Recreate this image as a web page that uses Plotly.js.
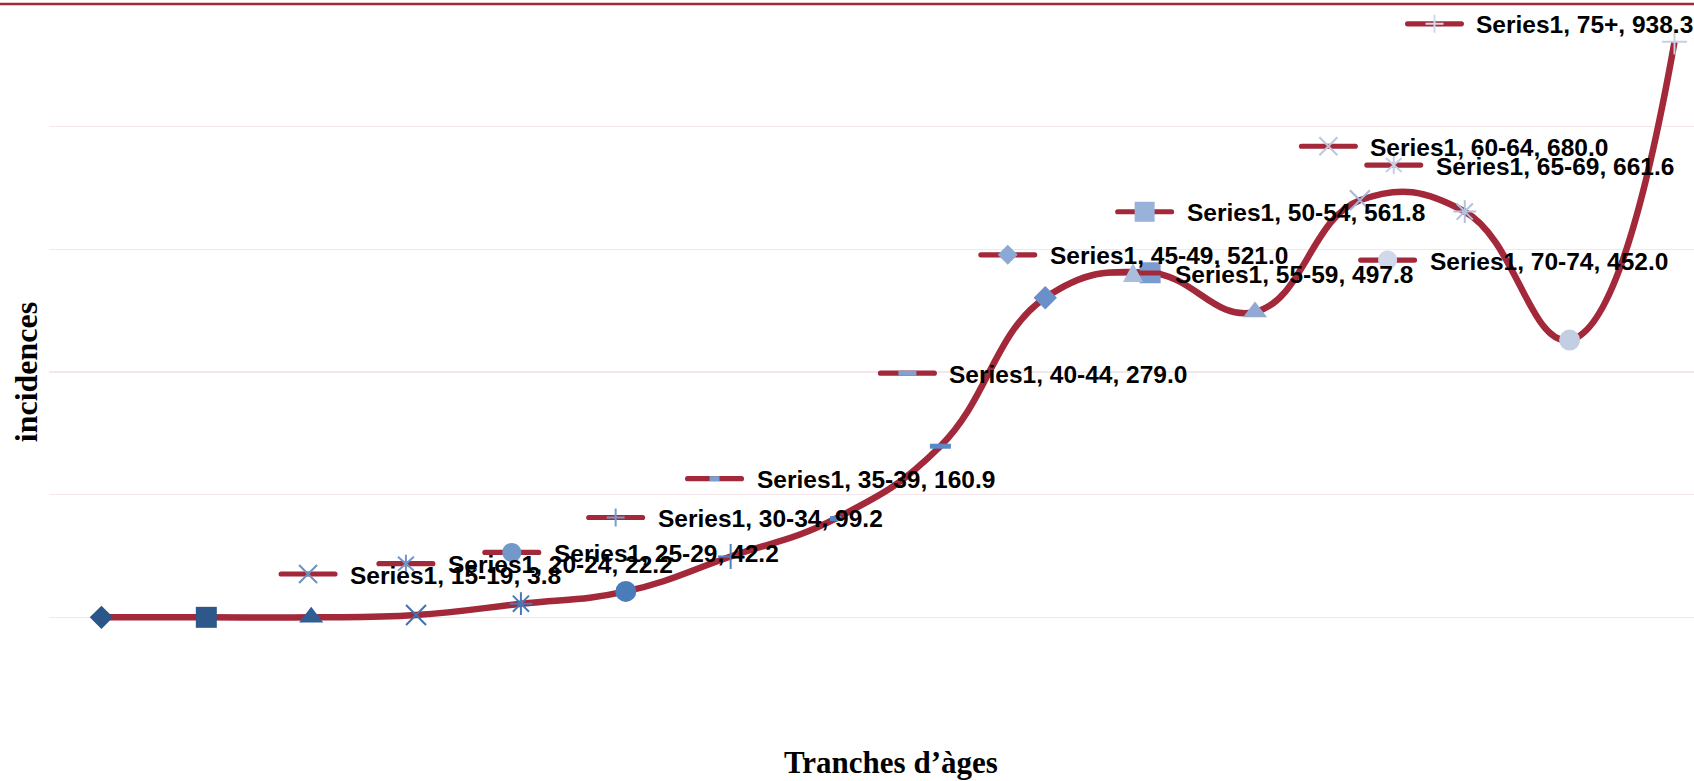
<!DOCTYPE html>
<html>
<head>
<meta charset="utf-8">
<script src="https://cdn.plot.ly/plotly-3.0.1.min.js"></script>
<style>
  html, body { margin: 0; padding: 0; background: #ffffff; }
  #chart { width: 1694px; height: 781px; }
</style>
</head>
<body>
<div id="chart"></div>
<script>
// ---------------- data ----------------
const categories = ['0-4','5-9','10-14','15-19','20-24','25-29','30-34','35-39',
                    '40-44','45-49','50-54','55-59','60-64','65-69','70-74','75+'];
const incidences = [0, 0, 0, 3.8, 22.2, 42.2, 99.2, 160.9,
                    279.0, 521.0, 561.8, 497.8, 680.0, 661.6, 452.0, 938.3];
const seriesName = 'Series1';
const labelledCategories = ['15-19','20-24','25-29','30-34','35-39','40-44','45-49',
                            '50-54','55-59','60-64','65-69','70-74','75+'];
const xTitle = 'Tranches d’àges';
const yTitle = 'incidences';

// ---------------- styles ----------------
const lineColor = '#A2283A';
const markerSymbols = ['diamond','square','triangle-up','x-thin-open','asterisk-open','circle',
  'cross-thin-open','line-ew-open','line-ew-open','diamond','square','triangle-up',
  'x-thin-open','asterisk-open','circle','cross-thin-open'];
const markerSizes = [18,21,21,20,19,21,18,8,15,18,21,21,20,19,21,18];
const markerLineWidths = [0,0,0,2,2,0,2,5,5,0,0,0,2,2,0,2];
const markerColors = ['#2B5688','#2D5889','#305D95','#4472B0','#4779B9','#4A7CBA','#4F81BD',
  '#5585C4','#5B88C6','#6B90C9','#7C9CCF','#93A9D4','#A7B7DA','#B3C1DE','#C3CEE3','#C7D0E3'];
const keyKinds = ['diamond','square','triangle','x','star','circle','plus','dashS','dashL',
  'diamond','square','triangle','x','star','circle','plus'];
// label key-centre offsets (px, right / up) from each data point
const labelOffsets = {
  '15-19': [-108, 41], '20-24': [-115, 40], '25-29': [-114, 39], '30-34': [-115, 39],
  '35-39': [-121, 40], '40-44': [-33, 73], '45-49': [-37.5, 43], '50-54': [-5.5, 61],
  '55-59': [-122, 39], '60-64': [-31.5, 54], '65-69': [-71, 46.5], '70-74': [-182, 80],
  '75+': [-240, 18]
};

function lighten(hex, f) {
  const n = parseInt(hex.slice(1), 16);
  const r = (n >> 16) & 255, g = (n >> 8) & 255, b = n & 255;
  const m = c => Math.round(c + (255 - c) * f);
  return 'rgb(' + m(r) + ',' + m(g) + ',' + m(b) + ')';
}
const f2 = v => v.toFixed(2);

function keyLinePath(cx, cy) {
  const h = 29.5, t = 2.6;
  const x0 = cx - h + t, x1 = cx + h - t;
  return 'M' + f2(x0) + ',' + f2(cy + t) + ' H' + f2(x1) +
    ' Q' + f2(x1 + t) + ',' + f2(cy + t) + ' ' + f2(x1 + t) + ',' + f2(cy) +
    ' Q' + f2(x1 + t) + ',' + f2(cy - t) + ' ' + f2(x1) + ',' + f2(cy - t) +
    ' H' + f2(x0) +
    ' Q' + f2(x0 - t) + ',' + f2(cy - t) + ' ' + f2(x0 - t) + ',' + f2(cy) +
    ' Q' + f2(x0 - t) + ',' + f2(cy + t) + ' ' + f2(x0) + ',' + f2(cy + t) + ' Z';
}

function keyMarker(kind, cx, cy) {
  // returns [path, filled]
  const P = (x, y) => f2(cx + x) + ',' + f2(cy + y);
  switch (kind) {
    case 'diamond': return ['M' + P(10, 0) + ' L' + P(0, 10) + ' L' + P(-10, 0) + ' L' + P(0, -10) + ' Z', true];
    case 'square': return ['M' + P(-10, -10) + ' L' + P(10, -10) + ' L' + P(10, 10) + ' L' + P(-10, 10) + ' Z', true];
    case 'triangle': return ['M' + P(-10, -9) + ' L' + P(10, -9) + ' L' + P(0, 10) + ' Z', true];
    case 'x': return ['M' + P(-9, -9) + ' L' + P(9, 9) + ' M' + P(-9, 9) + ' L' + P(9, -9), false];
    case 'star': return ['M' + P(0, -9) + ' L' + P(0, 9) + ' M' + P(-8, -7) + ' L' + P(8, 7) + ' M' + P(-8, 7) + ' L' + P(8, -7), false];
    case 'plus': return ['M' + P(-9, 0) + ' L' + P(9, 0) + ' M' + P(0, -9) + ' L' + P(0, 9), false];
    case 'dashS': return ['M' + P(-5, -2.5) + ' L' + P(5, -2.5) + ' L' + P(5, 2.5) + ' L' + P(-5, 2.5) + ' Z', true];
    case 'dashL': return ['M' + P(-9, -2.5) + ' L' + P(9, -2.5) + ' L' + P(9, 2.5) + ' L' + P(-9, 2.5) + ' Z', true];
    case 'circle': {
      const r = 9.5, k = r * 0.5523;
      return ['M' + P(r, 0) + ' C' + P(r, k) + ' ' + P(k, r) + ' ' + P(0, r) +
        ' C' + P(-k, r) + ' ' + P(-r, k) + ' ' + P(-r, 0) +
        ' C' + P(-r, -k) + ' ' + P(-k, -r) + ' ' + P(0, -r) +
        ' C' + P(k, -r) + ' ' + P(r, -k) + ' ' + P(r, 0) + ' Z', true];
    }
  }
}

// ---------------- trace ----------------
const trace = {
  type: 'scatter',
  mode: 'lines+markers',
  x: categories,
  y: incidences,
  name: seriesName,
  line: { color: lineColor, width: 6.5, shape: 'spline', smoothing: 1.25 },
  marker: {
    symbol: markerSymbols,
    size: markerSizes,
    color: markerColors,
    opacity: 1,
    line: { color: markerColors, width: markerLineWidths }
  },
  opacity: 1,
  hoverinfo: 'x+y',
  cliponaxis: false
};

// ---------------- labels (key + text) ----------------
const shapes = [];
const annotations = [];

// top border line of the chart
shapes.push({
  type: 'line', xref: 'paper', yref: 'paper', x0: -49 / 1645, x1: 1, y0: 1, y1: 1,
  line: { color: '#A0283A', width: 2.5 }, layer: 'above'
});

labelledCategories.forEach(cat => {
  const i = categories.indexOf(cat);
  const v = incidences[i];
  const off = labelOffsets[cat];
  const cx = off[0], cy = off[1];
  shapes.push({
    type: 'path', xref: 'x', yref: 'y', xsizemode: 'pixel', ysizemode: 'pixel',
    xanchor: i, yanchor: v, path: keyLinePath(cx, cy),
    fillcolor: lineColor, line: { width: 0 }, layer: 'above'
  });
  const km = keyMarker(keyKinds[i], cx, cy);
  const kc = lighten(markerColors[i], 0.22);
  shapes.push({
    type: 'path', xref: 'x', yref: 'y', xsizemode: 'pixel', ysizemode: 'pixel',
    xanchor: i, yanchor: v, path: km[0],
    fillcolor: km[1] ? kc : 'rgba(0,0,0,0)',
    line: km[1] ? { width: 0 } : { color: kc, width: 2 }, layer: 'above'
  });
  annotations.push({
    xref: 'x', yref: 'y', x: i, y: v,
    text: seriesName + ', ' + cat + ', ' + v.toFixed(1),
    showarrow: false, xanchor: 'left', yanchor: 'middle',
    xshift: cx + 40, yshift: cy - 1,
    font: { family: 'Liberation Sans, Arial, sans-serif', size: 24.5, color: '#000000', weight: 700 }
  });
});

// ---------------- layout ----------------
const layout = {
  width: 1694, height: 781,
  margin: { l: 49, r: 0, t: 4, b: 41, pad: 0 },
  paper_bgcolor: '#ffffff', plot_bgcolor: '#ffffff',
  showlegend: false,
  xaxis: {
    type: 'category', range: [-0.5, 15.186],
    showgrid: false, zeroline: false, showline: false, showticklabels: false, ticks: '',
    title: { text: '&nbsp;&nbsp;&nbsp;&nbsp;&nbsp;' + xTitle, standoff: 11,
      font: { family: 'Liberation Serif, Times New Roman, serif', size: 31, color: '#000000', weight: 700 } }
  },
  yaxis: {
    range: [-200, 1000], tick0: 0, dtick: 200,
    showgrid: true, gridcolor: '#F4E6EA', gridwidth: 1.5,
    zeroline: false, showline: false, showticklabels: false, ticks: '',
    title: { text: yTitle, standoff: 0,
      font: { family: 'Liberation Serif, Times New Roman, serif', size: 32, color: '#000000', weight: 700 } }
  },
  shapes: shapes,
  annotations: annotations
};

Plotly.newPlot('chart', [trace], layout, { displayModeBar: false, staticPlot: true });
</script>
</body>
</html>
